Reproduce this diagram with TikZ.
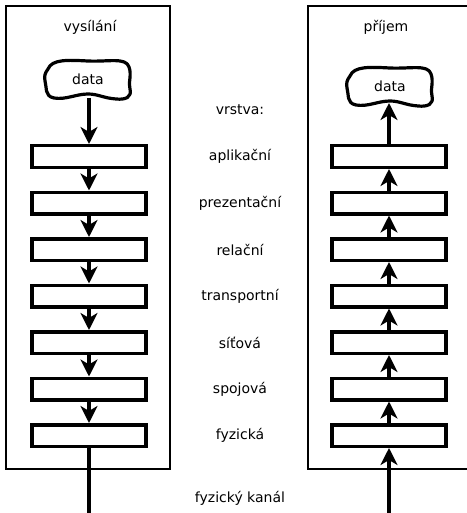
\documentclass[tikz,border=0pt]{standalone}
\usepackage{fontspec}
\setmainfont{DejaVu Sans}
\usetikzlibrary{arrows.meta}
\begin{document}
\begin{tikzpicture}[x=1pt,y=-1pt,
  frame/.style={draw=black,line width=2pt},
  layer/.style={draw=black,line width=3.5pt,minimum width=114pt,minimum height=21.5pt,inner sep=0pt},
  lbl/.style={font=\fontsize{14}{16}\selectfont,inner sep=0pt},
  blob/.style={draw=black,line width=3.2pt,line join=round},
  flow/.style={line width=3.2pt,-{Stealth[length=17pt,width=17pt,inset=5pt]}},
  plain/.style={line width=3.2pt}]
\useasboundingbox (0,0) rectangle (466,513);
% frames
\draw[frame] (6,6) rectangle (170,469);
\draw[frame] (308,6) rectangle (472,469);
% titles
\node[lbl] (tl) at (90,27) {vysílání};
\node[lbl] (tr) at (386,27) {příjem};
% data blobs
\node[lbl] (dL) at (88,79) {data};
\node[lbl] (dR) at (390,86) {data};
\foreach \c in {dL,dR}{
  \draw[blob,shift={(\c.center)}]
    (-40,-10) .. controls (-36,-20) and (-20,-19) .. (0,-18)
    .. controls (20,-17) and (38,-22) .. (41,-12)
    .. controls (44,-4) and (40,4) .. (42,10)
    .. controls (44,18) and (38,21) .. (28,20)
    .. controls (15,19) and (10,15) .. (0,15)
    .. controls (-12,15) and (-22,21) .. (-34,19)
    .. controls (-44,17) and (-41,8) .. (-43,2)
    .. controls (-44,-3) and (-43,-6) .. (-40,-10) -- cycle;
}
% layers
\foreach \i in {1,...,7}{
  \node[layer] (L\i) at (89,{156.5+46.5*(\i-1)}) {};
  \node[layer] (R\i) at (389,{156.5+46.5*(\i-1)}) {};
}
% labels
\node[lbl] (v) at (240,110) {vrstva:};
\node[lbl] (n1) at (240,156.5) {aplikační};
\node[lbl] (n2) at (240,203) {prezentační};
\node[lbl] (n3) at (240,249.5) {relační};
\node[lbl] (n4) at (240,296) {transportní};
\node[lbl] (n5) at (240,342.5) {síťová};
\node[lbl] (n6) at (240,389) {spojová};
\node[lbl] (n7) at (240,435.5) {fyzická};
\node[lbl] (fk) at (240,498) {fyzický kanál};
% connectors
\coordinate (inL) at (89,98);
\coordinate (inR) at (389,103);
\coordinate (bL) at (89,513);
\coordinate (bR) at (389,513);
\draw[flow] (inL) -- (L1.north);
\draw[flow] (R1.north) -- (inR);
\foreach \i [evaluate=\i as \j using int(\i+1)] in {1,...,6}{
  \draw[flow] (L\i.south) -- (L\j.north);
  \draw[flow] (R\j.north) -- (R\i.south);
}
\draw[plain] (L7.south) -- (bL);
\draw[flow] (bR) -- (R7.south);
\end{tikzpicture}
\end{document}
